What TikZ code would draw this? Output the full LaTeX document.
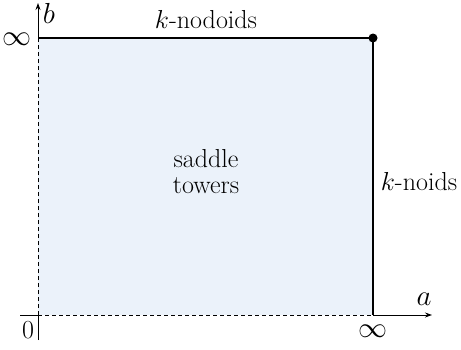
\RequirePackage{fix-cm}
\documentclass[tikz,border=0pt]{standalone}
\usetikzlibrary{arrows.meta}
\definecolor{regionfill}{HTML}{EBF2FA}
\begin{document}
\begin{tikzpicture}[x=1pt,y=-1pt,
  axis/.style={line width=0.9pt,-{Stealth[length=7pt,width=5pt]}},
  axisline/.style={line width=0.9pt},
  hidden/.style={line width=0.9pt,dashed,dash pattern=on 4pt off 3pt},
  edge/.style={line width=1.6pt},
  lbl/.style={font=\fontsize{26}{28}\selectfont,inner sep=0pt},
  biglbl/.style={font=\fontsize{29}{30}\selectfont,inner sep=0pt}]
\useasboundingbox (0,0) rectangle (461,349);
% corner points of the parameter square
\coordinate (O) at (38,315);
\coordinate (A) at (373,315);
\coordinate (B) at (38,38);
\coordinate (C) at (373,38);
\coordinate (xs) at (20,315);
\coordinate (xe) at (432,315);
\coordinate (ys) at (38,340);
\coordinate (ye) at (38,3);
% shaded region
\fill[regionfill] (O) rectangle (C);
% axes
\draw[axisline] (xs) -- (O);
\draw[hidden] (O) -- (A);
\draw[axis] (A) -- (xe);
\draw[axisline] (ys) -- (O);
\draw[hidden] (O) -- (B);
\draw[axis] (B) -- (ye);
% boundary families
\draw[edge] (B) -- (C) -- (A);
\fill (C) circle (4.5pt);
% labels
\node[lbl] (zero) at (28,330) {$0$};
\node[biglbl] (infa) at (373,331) {$\infty$};
\node[biglbl] (infb) at (17,39) {$\infty$};
\node[biglbl] (la) at (424,299) {$a$};
\node[biglbl] (lb) at (49,13) {$b$};
\node[lbl,anchor=base] (nodoids) at (206,28) {$k$-nodoids};
\node[lbl,anchor=base] (noids) at (419,190) {$k$-noids};
\node[lbl,align=center,font=\fontsize{26}{26}\selectfont] (saddle) at (206,172) {saddle\\towers};
\end{tikzpicture}
\end{document}
